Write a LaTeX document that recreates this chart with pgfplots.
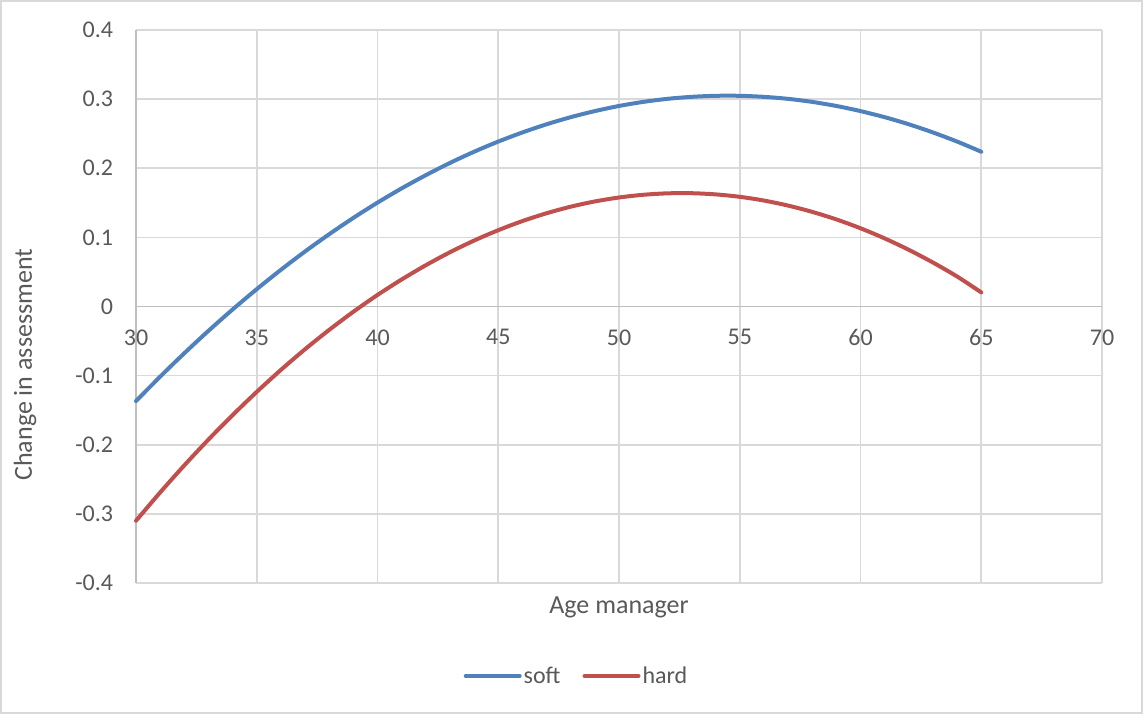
\documentclass[border=0pt]{standalone}
\usepackage{pgfplots}
\pgfplotsset{compat=1.18}
\usepackage{fontspec}
\setmainfont{Carlito}
\definecolor{softc}{HTML}{4F81BD}
\definecolor{hardc}{HTML}{C0504D}
\definecolor{gridc}{HTML}{D9D9D9}
\definecolor{axc}{HTML}{BFBFBF}
\definecolor{txtc}{HTML}{595959}
\begin{document}
\begin{tikzpicture}
\useasboundingbox (-102pt,-99pt) rectangle (756pt,437.25pt);
\draw[gridc, line width=1.2pt] (-101.25pt,-97.5pt) rectangle (754.5pt,436.5pt);
\begin{axis}[
  at={(0,0)}, anchor=south west,
  scale only axis, width=724.5pt, height=414.75pt,
  xmin=30, xmax=70, ymin=-0.4, ymax=0.4,
  xtick={30,35,...,70}, ytick={-0.4,-0.3,-0.2,-0.1,0,0.1,0.2,0.3,0.4},
  axis x line*=middle, axis y line*=left,
  axis line style={axc, line width=1.2pt},
  grid=major, major grid style={gridc, line width=1.2pt},
  major tick length=0pt,
  hide obscured x ticks=false, hide obscured y ticks=false,
  /pgf/number format/assume math mode=true,
  yticklabel={\pgfmathprintnumber[fixed,precision=1]{\tick}},
  yticklabel style={inner sep=0pt, anchor=east, xshift=-17pt, text=txtc, font=\fontsize{18}{21}\selectfont},
  xticklabel style={inner sep=0pt, anchor=north, yshift=-17pt, text=txtc, font=\fontsize{18}{21}\selectfont},
  xlabel={Age manager}, ylabel={Change in assessment},
  every axis x label/.style={at={(axis description cs:0.5,0)}, anchor=north, yshift=-10.5pt, inner sep=0pt, text=txtc, font=\fontsize{19.5}{22}\selectfont},
  every axis y label/.style={at={(axis description cs:-0.1149,0.395)}, rotate=90, anchor=center, inner sep=0pt, text=txtc, font=\fontsize{19.5}{22}\selectfont},
  legend style={draw=none, at={(axis description cs:0.456,-0.168)}, anchor=center, legend columns=2, font=\fontsize{18}{21}\selectfont, text=txtc, /tikz/every even column/.append style={column sep=15pt}, nodes={inner sep=1.5pt}},
  legend image code/.code={\draw[#1, line width=3pt, line cap=round] (0pt,0pt) -- (40.5pt,0pt);},
  clip=false,
]
\addplot[softc, line width=3pt, smooth, line cap=round] coordinates {
(30,-0.1368) (31,-0.1015) (32,-0.0676) (33,-0.0352) (34,-0.0043) (35,0.0251)
(36,0.0531) (37,0.0796) (38,0.1046) (39,0.1282) (40,0.1503) (41,0.1709)
(42,0.1900) (43,0.2077) (44,0.2239) (45,0.2386) (46,0.2518) (47,0.2636)
(48,0.2739) (49,0.2827) (50,0.2901) (51,0.2960) (52,0.3004) (53,0.3033)
(54,0.3048) (55,0.3048) (56,0.3033) (57,0.3004) (58,0.2960) (59,0.2901)
(60,0.2827) (61,0.2739) (62,0.2636) (63,0.2518) (64,0.2386) (65,0.2239)
};
\addlegendentry{soft}
\addplot[hardc, line width=3pt, smooth, line cap=round] coordinates {
(30,-0.3100) (31,-0.2690) (32,-0.2298) (33,-0.1925) (34,-0.1571) (35,-0.1235)
(36,-0.0917) (37,-0.0618) (38,-0.0338) (39,-0.0076) (40,0.0167) (41,0.0391)
(42,0.0597) (43,0.0785) (44,0.0954) (45,0.1104) (46,0.1236) (47,0.1349)
(48,0.1444) (49,0.1520) (50,0.1577) (51,0.1616) (52,0.1637) (53,0.1639)
(54,0.1622) (55,0.1587) (56,0.1533) (57,0.1460) (58,0.1369) (59,0.1260)
(60,0.1132) (61,0.0985) (62,0.0820) (63,0.0636) (64,0.0434) (65,0.0204)
};
\addlegendentry{hard}
\end{axis}
\end{tikzpicture}
\end{document}
